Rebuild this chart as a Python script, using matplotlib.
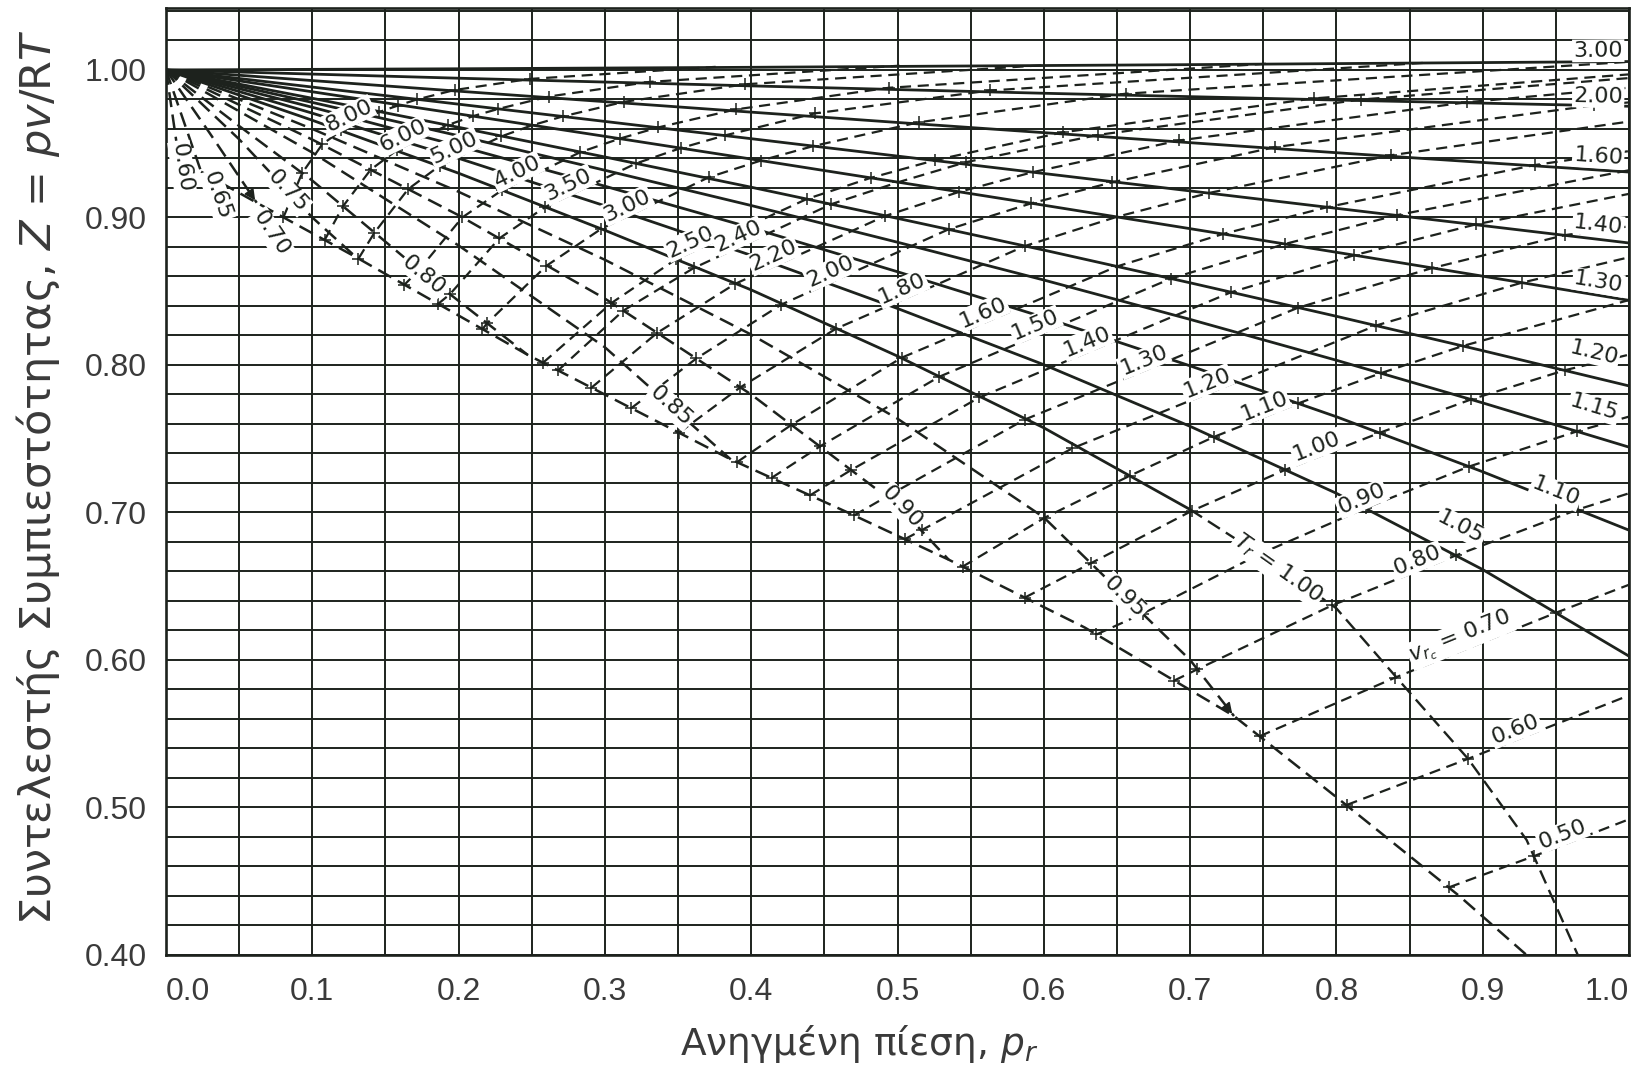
import matplotlib
matplotlib.use('Agg')

import matplotlib.pyplot as plt
import numpy as np

plt.rcParams['font.family'] = ['Liberation Sans', 'DejaVu Sans']
plt.rcParams['mathtext.fontset'] = 'custom'
plt.rcParams['mathtext.rm'] = 'DejaVu Sans'
plt.rcParams['mathtext.it'] = 'DejaVu Sans:italic'

# --- axis ticks -------------------------------------------------------------
X_TICKS = [0.0, 0.1, 0.2, 0.3, 0.4, 0.5, 0.6, 0.7, 0.8, 0.9, 1.0]
X_TICK_LABELS = ["0.0", "0.1", "0.2", "0.3", "0.4", "0.5", "0.6", "0.7", "0.8", "0.9", "1.0"]
Y_TICKS = [0.40, 0.50, 0.60, 0.70, 0.80, 0.90, 1.00]
Y_TICK_LABELS = ["0.40", "0.50", "0.60", "0.70", "0.80", "0.90", "1.00"]

# --- isotherms T_r >= 1.05 (solid), read at these reduced pressures -----------
P_GRID = [0.0, 0.1, 0.2, 0.3, 0.4, 0.5, 0.6, 0.7, 0.8, 0.9, 1.0]
Z_T300 = [1.0, 1.0004, 1.0008, 1.0013, 1.0018, 1.0024, 1.0030, 1.0036, 1.0043, 1.0050, 1.0057]
Z_T200 = [1.0, 0.9972, 0.9944, 0.9918, 0.9892, 0.9867, 0.9842, 0.9819, 0.9796, 0.9775, 0.9754]
Z_T160 = [1.0, 0.9928, 0.9856, 0.9785, 0.9714, 0.9644, 0.9575, 0.9507, 0.9439, 0.9373, 0.9308]
Z_T140 = [1.0, 0.9884, 0.9768, 0.9651, 0.9534, 0.9416, 0.9298, 0.9180, 0.9062, 0.8945, 0.8827]
Z_T130 = [1.0, 0.9852, 0.9702, 0.9550, 0.9396, 0.9240, 0.9083, 0.8924, 0.8764, 0.8602, 0.8438]
Z_T120 = [1.0, 0.9808, 0.9611, 0.9410, 0.9205, 0.8994, 0.8779, 0.8557, 0.8330, 0.8097, 0.7858]
Z_T115 = [1.0, 0.9780, 0.9554, 0.9320, 0.9081, 0.8832, 0.8576, 0.8309, 0.8032, 0.7743, 0.7443]
Z_T110 = [1.0, 0.9747, 0.9485, 0.9212, 0.8930, 0.8632, 0.8323, 0.7994, 0.7649, 0.7276, 0.6880]
Z_T105 = [1.0, 0.9707, 0.9401, 0.9079, 0.8743, 0.8383, 0.8002, 0.7584, 0.7130, 0.6613, 0.6026]

# T_r = 1.00: solid part, then dashed down towards the critical point
P_T100 = [0.0, 0.1, 0.2, 0.3, 0.4, 0.5, 0.6, 0.7]
Z_T100 = [1.0, 0.9659, 0.930, 0.8913, 0.8509, 0.806, 0.7574, 0.702]
P_T100D = [0.7, 0.75, 0.8, 0.85, 0.89, 0.93, 0.965]
Z_T100D = [0.702, 0.670, 0.635, 0.578, 0.533, 0.478, 0.400]

# --- isotherms T_r < 1 (dashed), each ends on the saturated vapour line -----
P_T095 = [0.0, 0.1, 0.2, 0.3, 0.4, 0.5, 0.6, 0.7, 0.73]
Z_T095 = [1.0, 0.960, 0.9174, 0.8713, 0.8206, 0.7636, 0.6967, 0.600, 0.562]
P_T090 = [0.0, 0.1, 0.2, 0.3, 0.4, 0.5, 0.535]
Z_T090 = [1.0, 0.9528, 0.9015, 0.845, 0.780, 0.705, 0.668]
P_T085 = [0.0, 0.1, 0.2, 0.3, 0.386]
Z_T085 = [1.0, 0.944, 0.881, 0.812, 0.736]
P_T080 = [0.0, 0.05, 0.10, 0.176, 0.247]
Z_T080 = [1.0, 0.962, 0.925, 0.862, 0.807]
P_T075 = [0.0, 0.05, 0.10, 0.13]
Z_T075 = [1.0, 0.953, 0.900, 0.873]
P_T070 = [0.0, 0.03, 0.062]
Z_T070 = [1.0, 0.957, 0.910]
P_T065 = [0.0, 0.024]
Z_T065 = [1.0, 0.931]
P_T060 = [0.0, 0.007]
Z_T060 = [1.0, 0.952]

# saturated vapour line
P_SAT = [0.024, 0.062, 0.13, 0.247, 0.386, 0.466, 0.535, 0.628, 0.73, 0.80, 0.884, 0.93]
Z_SAT = [0.931, 0.910, 0.873, 0.807, 0.736, 0.700, 0.668, 0.622, 0.562, 0.507, 0.440, 0.400]

# --- lines of constant pseudo-reduced volume v_rc (dashed) -------------------
V_800 = [(0.0802, 0.900), (0.093, 0.930), (0.1068, 0.9496), (0.1199, 0.959), (0.1458, 0.9715),
         (0.1586, 0.9759), (0.1715, 0.980), (0.1973, 0.9864), (0.2485, 0.9939), (0.3757, 1.0021)]
V_600 = [(0.1085, 0.8848), (0.121, 0.9076), (0.1399, 0.9324), (0.1576, 0.9455), (0.1925, 0.9626),
         (0.2099, 0.9687), (0.2272, 0.9736), (0.2618, 0.982), (0.3306, 0.9919), (0.5014, 1.0029)]
V_500 = [(0.1315, 0.872), (0.1425, 0.8897), (0.1655, 0.9192), (0.187, 0.935), (0.2293, 0.955),
         (0.2503, 0.9625), (0.2712, 0.9685), (0.3131, 0.9784), (0.3961, 0.9903), (0.6021, 1.0034)]
V_400 = [(0.163, 0.8544), (0.173, 0.8645), (0.2025, 0.900), (0.2297, 0.9185), (0.2833, 0.9443),
         (0.31, 0.9534), (0.3363, 0.961), (0.3893, 0.9732), (0.4939, 0.9879), (0.7534, 1.0043)]
V_350 = [(0.186, 0.8414), (0.1941, 0.848), (0.2278, 0.8858), (0.259, 0.907), (0.3212, 0.9366),
         (0.3518, 0.947), (0.382, 0.9556), (0.4437, 0.9706), (0.5635, 0.9861), (0.8613, 1.0049)]
V_300 = [(0.2163, 0.8243), (0.2195, 0.8283), (0.26, 0.8672), (0.2975, 0.8923), (0.3709, 0.9272),
         (0.4067, 0.9386), (0.4425, 0.9484), (0.5144, 0.9645), (0.6559, 0.9839), (1.0, 1.0055)]
V_250 = [(0.2577, 0.8015), (0.3045, 0.842), (0.3485, 0.8716), (0.438, 0.9125), (0.4816, 0.9268),
         (0.5256, 0.9388), (0.6129, 0.9577), (0.7846, 0.9807), (1.0, 0.997)]
V_240 = [(0.268, 0.7963), (0.3125, 0.8368), (0.3607, 0.8657), (0.4547, 0.909), (0.5005, 0.9239),
         (0.5469, 0.9375), (0.6373, 0.956), (0.8166, 0.9799), (1.0, 0.9945)]
V_220 = [(0.2908, 0.7846), (0.3358, 0.8218), (0.389, 0.855), (0.4915, 0.901), (0.542, 0.9173),
         (0.5924, 0.9307), (0.6925, 0.9522), (0.8892, 0.9781), (1.0, 0.988)]
V_200 = [(0.318, 0.7707), (0.3625, 0.8044), (0.4205, 0.8409), (0.535, 0.892), (0.5915, 0.9096),
         (0.6467, 0.9238), (0.7582, 0.9477), (0.976, 0.976), (1.0, 0.978)]
V_180 = [(0.3507, 0.7541), (0.3925, 0.7848), (0.458, 0.8246), (0.587, 0.8806), (0.6498, 0.9004),
         (0.7129, 0.9166), (0.8375, 0.9422), (1.0, 0.965)]
V_160 = [(0.3903, 0.7341), (0.4275, 0.7594), (0.503, 0.805), (0.65, 0.8668), (0.7225, 0.8888),
         (0.7937, 0.907), (0.9355, 0.9355), (1.0, 0.945)]
V_150 = [(0.414, 0.7235), (0.447, 0.7448), (0.5285, 0.792), (0.687, 0.8586), (0.7647, 0.882),
         (0.8415, 0.9016), (1.0, 0.932)]
V_140 = [(0.4402, 0.7116), (0.4683, 0.7288), (0.556, 0.778), (0.728, 0.8493), (0.8122, 0.8744),
         (0.8953, 0.8953), (1.0, 0.916)]
V_130 = [(0.4703, 0.698), (0.4925, 0.7107), (0.587, 0.763), (0.774, 0.8389), (0.8655, 0.8657),
         (0.956, 0.888), (1.0, 0.894)]
V_120 = [(0.505, 0.6819), (0.5165, 0.688), (0.6195, 0.7435), (0.827, 0.8267), (0.9268, 0.8558),
         (1.0, 0.873)]
V_110 = [(0.5445, 0.6633), (0.6005, 0.6964), (0.659, 0.725), (0.716, 0.7511), (0.774, 0.774),
         (0.8302, 0.7944), (0.8865, 0.8129), (1.0, 0.844)]
V_100 = [(0.587, 0.6423), (0.6322, 0.6656), (0.701, 0.701), (0.765, 0.7289), (0.8295, 0.754),
         (0.892, 0.7766), (0.956, 0.7964), (1.0, 0.807)]
V_090 = [(0.636, 0.6173), (0.6675, 0.6314), (0.748, 0.672), (0.82, 0.703), (0.8905, 0.7311),
         (0.9645, 0.755), (1.0, 0.765)]
V_080 = [(0.689, 0.586), (0.705, 0.5937), (0.797, 0.637), (0.882, 0.671), (0.965, 0.702), (1.0, 0.713)]
V_070 = [(0.7475, 0.5483), (0.84, 0.588), (0.95, 0.632), (1.0, 0.651)]
V_060 = [(0.807, 0.5017), (0.89, 0.533), (1.0, 0.576)]
V_050 = [(0.877, 0.4459), (0.935, 0.467), (1.0, 0.492)]

INK = '#1d221d'
GREY = '#3a3a3a'

fig = plt.figure(figsize=(16.37, 10.68), dpi=100)
ax = fig.add_axes([166 / 1637, 113 / 1068, 1463 / 1637, 947 / 1068])
ax.set_xlim(0.0, 1.0)
ax.set_ylim(0.40, 1.042)

# grid: 0.05 in p_r, 0.02 in Z
ax.set_xticks(np.arange(0.0, 1.0001, 0.05), minor=True)
ax.set_yticks(np.arange(0.40, 1.0401, 0.02), minor=True)
ax.set_xticks(X_TICKS)
ax.set_yticks(Y_TICKS)
ax.grid(True, which='both', color=INK, linewidth=1.4, zorder=0)
ax.tick_params(which='both', length=0)
ax.set_xticklabels(X_TICK_LABELS, fontsize=23, color=GREY)
ax.set_yticklabels(Y_TICK_LABELS, fontsize=23, color=GREY)
ax.tick_params(axis='x', pad=16)
ax.tick_params(axis='y', pad=14)
xt = ax.get_xticklabels()
xt[0].set_horizontalalignment('left')
xt[-1].set_horizontalalignment('right')
for s in ax.spines.values():
    s.set_linewidth(1.9)
    s.set_color(INK)

ax.set_xlabel('Ανηγμένη πίεση, $p_r$', fontsize=27, color=GREY, family=['DejaVu Sans'],
              va='center', ha='center')
ax.xaxis.set_label_coords(0.474, -0.094)
ax.set_ylabel('Συντελεστής Συμπιεστότητας, $Z$ = $pv$/R$T$', fontsize=31, color=GREY,
              family=['DejaVu Sans'], va='center', ha='center')
ax.yaxis.set_label_coords(-0.0875, 0.505)

DASH = (6, 3)

hot = [Z_T300, Z_T200, Z_T160, Z_T140, Z_T130, Z_T120, Z_T115, Z_T110, Z_T105]
for zz in hot:
    ax.plot(P_GRID, zz, color=INK, lw=2.0, zorder=2)

ax.plot(P_T100, Z_T100, color=INK, lw=2.0, zorder=2)
ax.plot(P_T100D, Z_T100D, color=INK, lw=1.7, dashes=DASH, zorder=2)

cold = [(P_T095, Z_T095), (P_T090, Z_T090), (P_T085, Z_T085), (P_T080, Z_T080),
        (P_T075, Z_T075), (P_T070, Z_T070), (P_T065, Z_T065), (P_T060, Z_T060)]
for pp, zz in cold:
    ax.plot(pp, zz, color=INK, lw=1.8, dashes=DASH, zorder=2)

ax.plot(P_SAT, Z_SAT, color=INK, lw=1.8, dashes=DASH, zorder=2)

# arrow heads at the ends of the 0.70 and 0.95 isotherms
for pp, zz in [(P_T070, Z_T070), (P_T095, Z_T095)]:
    ax.annotate('', xy=(pp[-1], zz[-1]), xytext=(pp[-2] + 0.85 * (pp[-1] - pp[-2]),
                                                  zz[-2] + 0.85 * (zz[-1] - zz[-2])),
                arrowprops=dict(arrowstyle='-|>', color=INK, lw=1.2, mutation_scale=16),
                zorder=3)

v_lines = [("8.00", V_800), ("6.00", V_600), ("5.00", V_500), ("4.00", V_400), ("3.50", V_350),
           ("3.00", V_300), ("2.50", V_250), ("2.40", V_240), ("2.20", V_220), ("2.00", V_200),
           ("1.80", V_180), ("1.60", V_160), ("1.50", V_150), ("1.40", V_140), ("1.30", V_130),
           ("1.20", V_120), ("1.10", V_110), ("1.00", V_100), ("0.90", V_090), ("0.80", V_080),
           (r"$v_{r_c}$ = 0.70", V_070), ("0.60", V_060), ("0.50", V_050)]
for name, pts in v_lines:
    pp = [a for a, b in pts]
    zz = [b for a, b in pts]
    ax.plot(pp, zz, color=INK, lw=1.6, dashes=(5, 3), zorder=2)
    ax.plot(pp[:-1], zz[:-1], linestyle='none', marker='+', ms=8, mew=1.1, color=INK, zorder=2)


def seg_angle(pp, zz, x):
    i = int(np.clip(np.searchsorted(pp, x), 1, len(pp) - 1))
    a = ax.transData.transform((pp[i - 1], zz[i - 1]))
    b = ax.transData.transform((pp[i], zz[i]))
    return np.degrees(np.arctan2(b[1] - a[1], b[0] - a[0]))


LBL = dict(fontsize=16, color=INK, ha='center', rotation_mode='anchor',
           family=['DejaVu Sans'], zorder=5,
           bbox=dict(boxstyle='square,pad=0.06', fc='white', ec='none'))

# v_rc labels sit on top of their lines
v_label_p = [0.128, 0.165, 0.200, 0.243, 0.278, 0.318, 0.361, 0.394, 0.418, 0.457, 0.506, 0.561,
             0.597, 0.632, 0.671, 0.714, 0.753, 0.789, 0.820, 0.858, 0.888, 0.925, 0.957]
for (name, pts), xp in zip(v_lines, v_label_p):
    pp = [a for a, b in pts]
    zz = [b for a, b in pts]
    ax.text(xp, np.interp(xp, pp, zz), name, rotation=seg_angle(pp, zz, xp), va='bottom', **LBL)

# isotherm labels
iso_labels = [
    ("0.60", P_T060, Z_T060, 0.011, 0.934),
    ("0.65", P_T065, Z_T065, 0.035, 0.915),
    ("0.70", P_T070, Z_T070, 0.072, 0.889),
    ("0.75", P_T075, Z_T075, 0.083, 0.918),
    ("0.80", P_T080, Z_T080, 0.176, 0.861),
    ("0.85", P_T085, Z_T085, 0.345, 0.772),
    ("0.90", P_T090, Z_T090, 0.503, 0.704),
    ("0.95", P_T095, Z_T095, 0.655, 0.643),
    (r"$T_r$ = 1.00", P_T100D, Z_T100D, 0.760, 0.662),
    ("1.05", P_GRID, Z_T105, 0.885, 0.690),
    ("1.10", P_GRID, Z_T110, 0.950, 0.714),
    ("1.15", P_GRID, Z_T115, 0.976, 0.771),
    ("1.20", P_GRID, Z_T120, 0.976, 0.808),
    ("1.30", P_GRID, Z_T130, 0.979, 0.856),
    ("1.40", P_GRID, Z_T140, 0.979, 0.895),
    ("1.60", P_GRID, Z_T160, 0.979, 0.941),
    ("2.00", P_GRID, Z_T200, 0.979, 0.982),
    ("3.00", P_GRID, Z_T300, 0.979, 1.013),
]
for name, pp, zz, xp, yp in iso_labels:
    ang = seg_angle(pp, zz, min(xp, pp[-1]))
    ax.text(xp, yp, name, rotation=ang, va='center', **LBL)

fig.savefig('out.png', dpi=100, facecolor='white')
